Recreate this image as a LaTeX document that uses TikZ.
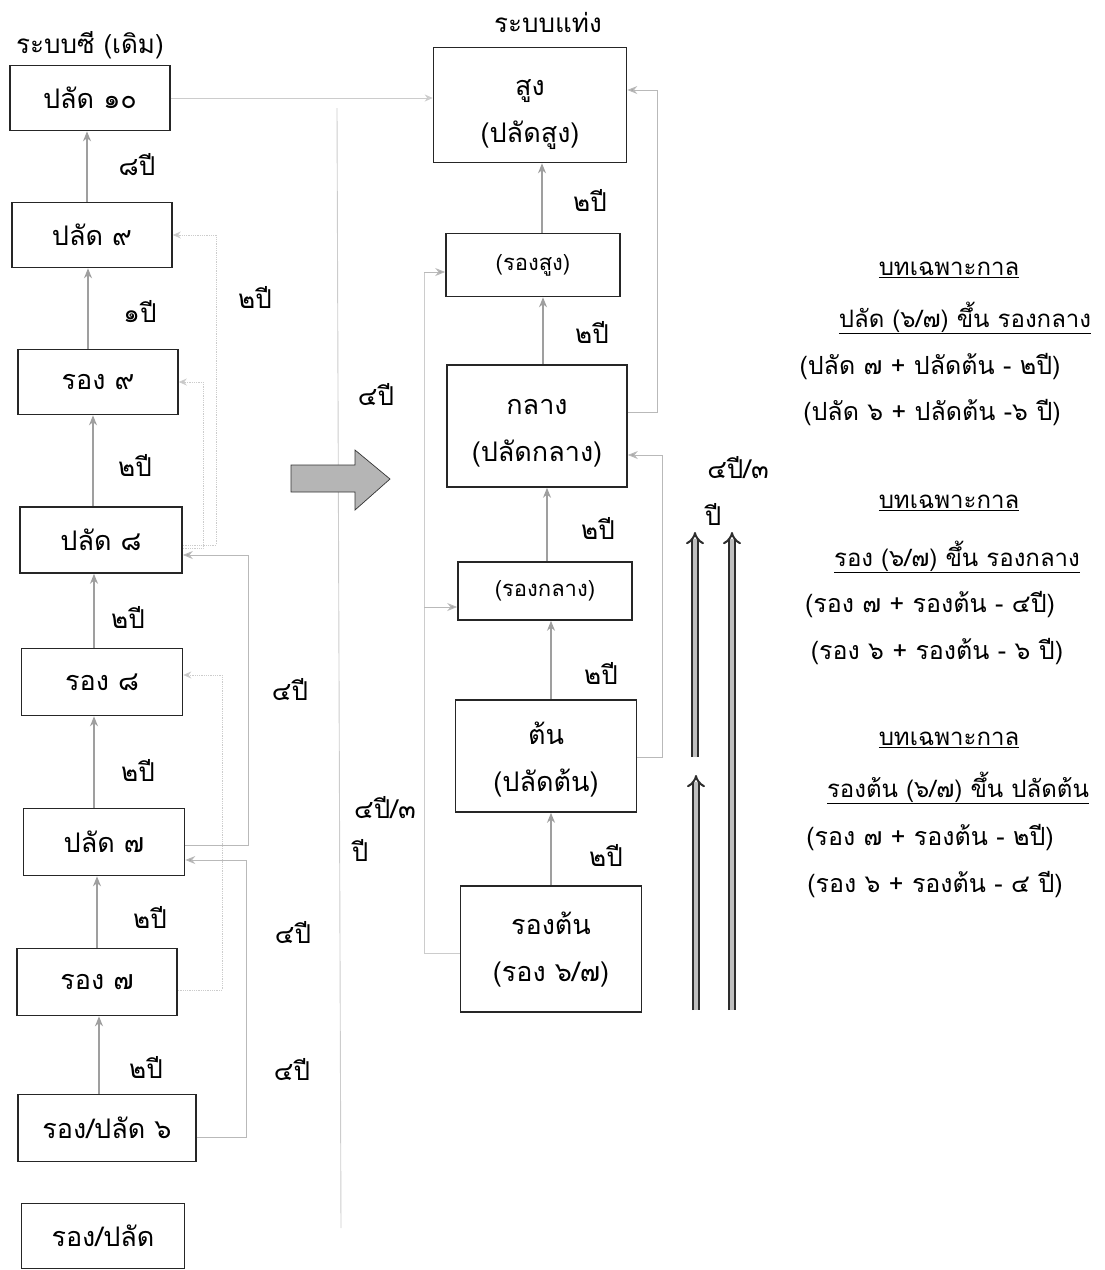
\documentclass[tikz,border=0pt]{standalone}
\usepackage{fontspec}
\setmainfont{Loma}[Script=Thai]
\usetikzlibrary{arrows.meta}
\begin{document}
\begin{tikzpicture}[x=1pt,y=-1pt,
  every node/.style={font=\fontsize{26}{30}\selectfont, inner sep=1pt},
  box/.style={draw=black!85, line width=1.6pt, inner sep=0pt, align=center, font=\fontsize{27}{30}\selectfont},
  twoline/.style={font=\fontsize{27}{47}\selectfont, align=center},
  small/.style={font=\fontsize{22}{26}\selectfont},
  lab/.style={font=\fontsize{26}{28}\selectfont},
  up/.style={draw=gray!75, line width=1.4pt, -{Stealth[length=10pt,width=8pt]}},
  link/.style={draw=gray!40, line width=0.9pt},
  linkarr/.style={draw=gray!55, line width=1pt, -{Stealth[length=10pt,width=8pt,fill=gray!70]}},
  dotlink/.style={draw=gray!40, line width=0.8pt, densely dotted, -{Stealth[length=8pt,width=7pt,fill=gray!45]}},
  dbl/.style={draw=gray!35!black, double=gray!50, double distance=4pt, line width=2pt, -{Implies}},
  ul/.style={font=\fontsize{24}{28}\selectfont},
  note/.style={font=\fontsize{25}{28}\selectfont},
]
\useasboundingbox (0,0) rectangle (1104,1270);

% ---------- left column ----------
\node (t1) at (90,45) {ระบบซี (เดิม)};
\node[box, minimum width=160pt, minimum height=65pt] (p10) at (90,98) {ปลัด ๑๐};
\node[box, minimum width=160pt, minimum height=65pt] (p9) at (92,235) {ปลัด ๙};
\node[box, minimum width=160pt, minimum height=65pt] (r9) at (98,382) {รอง ๙};
\node[box, minimum width=162pt, minimum height=66pt] (p8) at (101,540) {ปลัด ๘};
\node[box, minimum width=161pt, minimum height=67pt] (r8) at (102,682) {รอง ๘};
\node[box, minimum width=161pt, minimum height=67pt] (p7) at (104,842) {ปลัด ๗};
\node[box, minimum width=160pt, minimum height=67pt] (r7) at (97,982) {รอง ๗};
\node[box, minimum width=178pt, minimum height=67pt] (rp6) at (107,1128) {รอง/ปลัด ๖};
\node[box, minimum width=163pt, minimum height=65pt] (rp) at (103,1236) {รอง/ปลัด};

\draw[up] ([xshift=-5pt]p9.north) -- ([xshift=-5pt]p9.north |- p10.south);
\draw[up] ([xshift=-10pt]r9.north) -- ([xshift=-10pt]r9.north |- p9.south);
\draw[up] ([xshift=-8pt]p8.north) -- ([xshift=-8pt]p8.north |- r9.south);
\draw[up] ([xshift=-8pt]r8.north) -- ([xshift=-8pt]r8.north |- p8.south);
\draw[up] ([xshift=-10pt]p7.north) -- ([xshift=-10pt]p7.north |- r8.south);
\draw[up] ([xshift=0pt]r7.north) -- ([xshift=0pt]r7.north |- p7.south);
\draw[up] ([xshift=-8pt]rp6.north) -- ([xshift=-8pt]rp6.north |- r7.south);

\node[lab] (l1) at (137,165) {๘ปี};
\node[lab] (l2) at (140,312) {๑ปี};
\node[lab] (l3) at (135,465) {๒ปี};
\node[lab] (l4) at (128,617) {๒ปี};
\node[lab] (l5) at (138,770) {๒ปี};
\node[lab] (l6) at (150,917) {๒ปี};
\node[lab] (l7) at (146,1067) {๒ปี};

% left side connectors
\coordinate (a1) at (216,545);
\draw[dotlink] (p8.east |- a1) -- (a1) -- (a1 |- p9.east) -- (p9.east);
\coordinate (a2) at (203,548);
\draw[dotlink] (p8.east |- a2) -- (a2) -- (a2 |- r9.east) -- (r9.east);
\coordinate (a3) at (248,845);
\coordinate (a3t) at (248,555);
\draw[linkarr] (p7.east |- a3) -- (a3) -- (a3t) -- (p8.east |- a3t);
\coordinate (a4) at (222,990);
\coordinate (a4t) at (222,675);
\draw[dotlink] (r7.east |- a4) -- (a4) -- (a4t) -- (r8.east |- a4t);
\coordinate (a5) at (246,1137);
\coordinate (a5t) at (246,860);
\draw[linkarr] (rp6.east |- a5) -- (a5) -- (a5t) -- (p7.east |- a5t);

\node[lab] (l8) at (255,297) {๒ปี};
\node[lab] (l9) at (290,690) {๔ปี};
\node[lab] (l10) at (293,933) {๔ปี};
\node[lab] (l11) at (292,1070) {๔ปี};

% separator
\coordinate (sepa) at (337,108);
\coordinate (sepb) at (341,1228);
\draw[link] (sepa) -- (sepb);

% big arrow
\fill[gray!58, draw=gray!40!black, line width=0.7pt] (291,465) -- (355,465) -- (355,450) -- (390,479) -- (355,510) -- (355,492) -- (291,492) -- cycle;

% ---------- middle column ----------
\node (t2) at (548,22) {ระบบแท่ง};
\node[box, minimum width=193pt, minimum height=115pt] (s) at (530,105) {};
\node[twoline] (st) at ([yshift=-10pt]s.center) {สูง\\(ปลัดสูง)};
\node[box, small, minimum width=174pt, minimum height=63pt] (rs) at (533,265) {(รองสูง)};
\node[box, minimum width=180pt, minimum height=122pt] (k) at (537,426) {};
\node[twoline] (kt) at ([yshift=-7pt]k.center) {กลาง\\(ปลัดกลาง)};
\node[box, small, minimum width=174pt, minimum height=58pt] (rk) at (545,591) {(รองกลาง)};
\node[box, minimum width=181pt, minimum height=112pt] (t) at (546,756) {};
\node[twoline] (tt) at ([yshift=-4pt]t.center) {ต้น\\(ปลัดต้น)};
\node[box, minimum width=181pt, minimum height=126pt] (rt) at (551,949) {};
\node[twoline] (rtt) at ([yshift=-1pt]rt.center) {รองต้น\\(รอง ๖/๗)};

\draw[link, -{Stealth[length=8pt,width=7pt,fill=gray!35]}] (p10.east) -- (s.west |- p10.east);

\draw[up] ([xshift=9pt]rs.north) -- ([xshift=9pt]rs.north |- s.south);
\draw[up] ([xshift=6pt]k.north) -- ([xshift=6pt]k.north |- rs.south);
\draw[up] ([xshift=2pt]rk.north) -- ([xshift=2pt]rk.north |- k.south);
\draw[up] ([xshift=5pt]t.north) -- ([xshift=5pt]t.north |- rk.south);
\draw[up] ([xshift=0pt]rt.north) -- ([xshift=0pt]rt.north |- t.south);

\node[lab] (m1) at (590,200) {๒ปี};
\node[lab] (m2) at (592,332) {๒ปี};
\node[lab] (m3) at (598,528) {๒ปี};
\node[lab] (m4) at (601,673) {๒ปี};
\node[lab] (m5) at (606,855) {๒ปี};

% middle connectors
\coordinate (b1) at (424,953);
\coordinate (b2) at (424,607);
\coordinate (b3) at (424,272);
\draw[link] (rt.west |- b1) -- (b1) -- (b3);
\draw[linkarr] (b2) -- (rk.west |- b2);
\draw[linkarr] (b3) -- (rs.west |- b3);

\coordinate (c1) at (657,412);
\coordinate (c2) at (657,90);
\draw[linkarr] (k.east |- c1) -- (c1) -- (c2) -- (s.east |- c2);
\coordinate (d1) at (662,757);
\coordinate (d2) at (662,455);
\draw[linkarr] (t.east |- d1) -- (d1) -- (d2) -- (k.east |- d2);

\node[lab] (m6) at (376,395) {๔ปี};
\node[lab] (m7) at (385,808) {๔ปี/๓};
\node[lab] (m8) at (360,850) {ปี};
\node[lab] (m9) at (738,468) {๔ปี/๓};
\node[lab] (m10) at (713,514) {ปี};

% double arrows
\coordinate (e1) at (695,757);
\coordinate (e2) at (695,532);
\coordinate (e3) at (696,1010);
\coordinate (e4) at (696,775);
\coordinate (e5) at (732,1010);
\coordinate (e6) at (732,532);
\draw[dbl] (e1) -- (e2);
\draw[dbl] (e3) -- (e4);
\draw[dbl] (e5) -- (e6);

% ---------- right notes ----------
\node[ul] (n1) at (949,270) {\underline{บทเฉพาะกาล}};
\node[ul] (n2) at (965,318) {\underline{ปลัด (๖/๗) ขึ้น รองกลาง}};
\node[note] (n3) at (930,367) {(ปลัด ๗ + ปลัดต้น - ๒ปี)};
\node[note] (n4) at (932,413) {(ปลัด ๖ + ปลัดต้น -๖ ปี)};
\node[ul] (n5) at (949,503) {\underline{บทเฉพาะกาล}};
\node[ul] (n6) at (957,557) {\underline{รอง (๖/๗) ขึ้น รองกลาง}};
\node[note] (n7) at (930,605) {(รอง ๗ + รองต้น - ๔ปี)};
\node[note] (n8) at (937,652) {(รอง ๖ + รองต้น - ๖ ปี)};
\node[ul] (n9) at (949,740) {\underline{บทเฉพาะกาล}};
\node[ul] (n10) at (958,788) {\underline{รองต้น (๖/๗) ขึ้น ปลัดต้น}};
\node[note] (n11) at (930,838) {(รอง ๗ + รองต้น - ๒ปี)};
\node[note] (n12) at (935,885) {(รอง ๖ + รองต้น - ๔ ปี)};
\end{tikzpicture}
\end{document}
